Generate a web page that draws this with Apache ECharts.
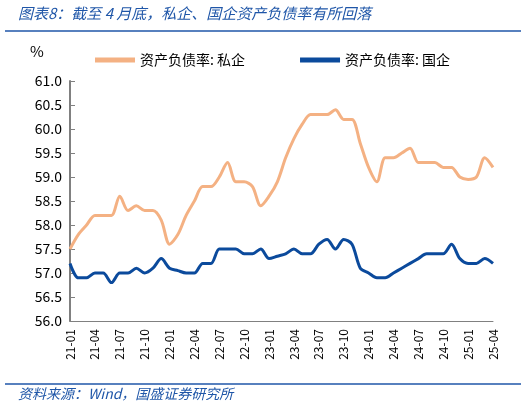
<!DOCTYPE html>
<html><head><meta charset="utf-8">
<script src="https://cdn.jsdelivr.net/npm/echarts@6/dist/echarts.min.js"></script>
<style>body{margin:0;background:#fff}#c{width:526px;height:409px}</style>
</head><body><div id="c"></div>
<script>
var months = [];
for (var y = 21; y <= 25; y++) {
    for (var m = 1; m <= 12; m++) {
        if (y == 25 && m > 4) break;
        months.push(y + '-' + (m < 10 ? '0' + m : m));
    }
}
var privateRatio = [57.5,57.8,58.0,58.2,58.2,58.2,58.6,58.3,58.4,58.3,58.3,58.1,
    57.6,57.8,58.2,58.5,58.8,58.8,59.0,59.3,58.9,58.9,58.8,58.4,
    58.6,58.9,59.4,59.8,60.1,60.3,60.3,60.3,60.4,60.2,60.2,59.7,
    59.2,58.9,59.4,59.4,59.5,59.6,59.3,59.3,59.3,59.2,59.2,59.0,
    58.95,59.0,59.4,59.2];
var stateRatio = [57.2,56.9,56.9,57.0,57.0,56.8,57.0,57.0,57.1,57.0,57.1,57.3,
    57.1,57.05,57.0,57.0,57.2,57.2,57.5,57.5,57.5,57.4,57.4,57.5,
    57.3,57.35,57.4,57.5,57.4,57.4,57.6,57.7,57.5,57.7,57.6,57.1,
    57.0,56.9,56.9,57.0,57.1,57.2,57.3,57.4,57.4,57.4,57.6,57.3,
    57.2,57.2,57.3,57.2];

var chart = echarts.init(document.getElementById('c'));
var font = '"Noto Sans CJK SC", sans-serif';
var blue = '#1F56A8';
chart.setOption({
    animation: false,
    textStyle: { fontFamily: font },
    graphic: [
        { type: 'text', left: 18, top: 6, style: { text: '图表8：截至 4 月底，私企、国企资产负债率有所回落', fill: blue, font: 'italic 15px ' + font } },
        { type: 'line', shape: { x1: 5, y1: 31, x2: 521, y2: 31 }, style: { stroke: blue, lineWidth: 1.5 } },
        { type: 'line', shape: { x1: 5, y1: 384, x2: 521, y2: 384 }, style: { stroke: blue, lineWidth: 1.5 } },
        { type: 'text', left: 18, top: 387, style: { text: '资料来源：Wind，国盛证券研究所', fill: blue, font: 'italic 14px ' + font } },
        { type: 'text', left: 30, top: 44, style: { text: '%', fill: '#000', font: '15px ' + font } }
    ],
    legend: {
        top: 48, left: 90, itemWidth: 40, itemHeight: 5, itemGap: 55, icon: 'rect',
        textStyle: { fontSize: 14, color: '#000' },
        data: ['资产负债率: 私企', '资产负债率: 国企']
    },
    grid: { left: 70, right: 33, top: 81, bottom: 88 },
    xAxis: {
        type: 'category', data: months, boundaryGap: false,
        axisLine: { lineStyle: { color: '#808080' } },
        axisTick: { show: false },
        axisLabel: { interval: 2, rotate: 90, color: '#000', fontSize: 12 }
    },
    yAxis: {
        type: 'value', min: 56, max: 61, interval: 0.5,
        splitLine: { show: false },
        axisLine: { show: true, lineStyle: { color: '#808080', width: 2 } },
        axisTick: { show: true, inside: true, lineStyle: { color: '#808080' } },
        axisLabel: { color: '#000', fontSize: 14, formatter: function (v) { return v.toFixed(1); } }
    },
    series: [
        { name: '资产负债率: 私企', type: 'line', data: privateRatio, smooth: 0.3, symbol: 'none', lineStyle: { width: 3, color: '#F4B183' }, itemStyle: { color: '#F4B183' } },
        { name: '资产负债率: 国企', type: 'line', data: stateRatio, smooth: 0.3, symbol: 'none', lineStyle: { width: 3, color: '#0B4A9C' }, itemStyle: { color: '#0B4A9C' } }
    ]
});
</script></body></html>
